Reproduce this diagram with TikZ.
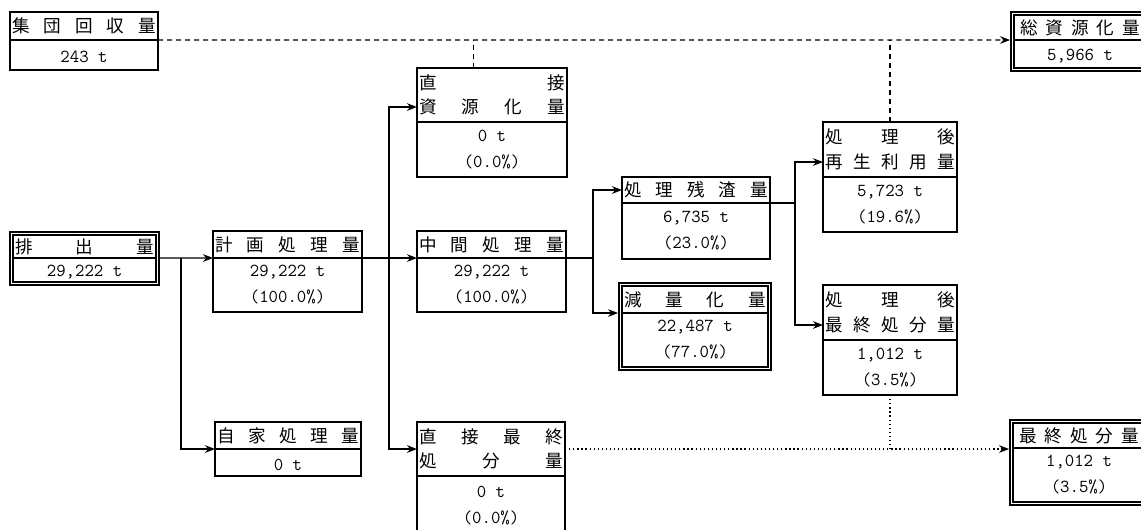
\documentclass[tikz,border=0pt]{standalone}
\usepackage{fontspec}
\newfontfamily\jpfont{Noto Sans CJK JP}
\usetikzlibrary{arrows.meta,calc,fit}
\begin{document}
\begin{tikzpicture}[x=0.025cm,y=-0.025cm,
    box/.style={draw,line width=1.3pt,outer sep=0pt,inner xsep=0.05cm,inner ysep=0pt,anchor=north west},
    head/.style={box,font=\jpfont\fontsize{12.5}{17.5}\selectfont,align=left},
    val/.style={box,font=\ttfamily\fontsize{13}{18.5}\selectfont,align=center,execute at begin node=\rule{0pt}{11pt}},
    val2/.style={val,execute at begin node=\rule{0pt}{16pt}},
    dbl/.style={draw,line width=1.3pt,inner sep=0.075cm},
    conn/.style={line width=0.9pt},
    arr/.style={conn,-{Stealth[length=0.25cm,width=0.19cm]}},
    dsh/.style={conn,dash pattern=on 0.125cm off 0.1cm},
    dot/.style={conn,dotted}]
\useasboundingbox (0,0) rectangle (1141,529);
\node[head,minimum width=3.7cm,text width=3.6cm,minimum height=0.7cm] (A-h) at (10,12) {集\hfill 団\hfill 回\hfill 収\hfill 量};
\node[val,minimum width=3.7cm,minimum height=0.75cm] (A-v) at (A-h.south west) {243 t};
\node[head,minimum width=3.3cm,text width=3.0cm,minimum height=0.625cm] (B-h) at (1014,15) {総\hfill 資\hfill 源\hfill 化\hfill 量};
\node[val,minimum width=3.3cm,minimum height=0.7cm] (B-v) at (B-h.south west) {5,966 t};
\node[dbl,fit=(B-h)(B-v)] (B) {};
\node[head,minimum width=3.75cm,text width=3.65cm,minimum height=1.35cm] (C-h) at (417,68) {直\hfill 接\\資\hfill 源\hfill 化\hfill 量};
\node[val2,minimum width=3.75cm,minimum height=1.375cm] (C-v) at (C-h.south west) {0 t\\(0.0\%)};
\node[head,minimum width=3.575cm,text width=3.475cm,minimum height=0.575cm] (D-h) at (13,235) {排\hfill 出\hfill 量};
\node[val,minimum width=3.575cm,minimum height=0.6cm] (D-v) at (D-h.south west) {29,222 t};
\node[dbl,fit=(D-h)(D-v)] (D) {};
\node[head,minimum width=3.725cm,text width=3.625cm,minimum height=0.675cm] (E-h) at (213,231) {計\hfill 画\hfill 処\hfill 理\hfill 量};
\node[val2,minimum width=3.725cm,minimum height=1.35cm] (E-v) at (E-h.south west) {29,222 t\\(100.0\%)};
\node[head,minimum width=3.725cm,text width=3.625cm,minimum height=0.675cm] (F-h) at (417,231) {中\hfill 間\hfill 処\hfill 理\hfill 量};
\node[val2,minimum width=3.725cm,minimum height=1.35cm] (F-v) at (F-h.south west) {29,222 t\\(100.0\%)};
\node[head,minimum width=3.7cm,text width=3.6cm,minimum height=0.65cm] (G-h) at (622,177) {処\hfill 理\hfill 残\hfill 渣\hfill 量};
\node[val2,minimum width=3.7cm,minimum height=1.4cm] (G-v) at (G-h.south west) {6,735 t\\(23.0\%)};
\node[head,minimum width=3.65cm,text width=3.55cm,minimum height=0.675cm] (H-h) at (622,286) {減\hfill 量\hfill 化\hfill 量};
\node[val2,minimum width=3.65cm,minimum height=1.35cm] (H-v) at (H-h.south west) {22,487 t\\(77.0\%)};
\node[dbl,fit=(H-h)(H-v)] (H) {};
\node[head,minimum width=3.35cm,text width=3.25cm,minimum height=1.375cm] (I-h) at (823,122) {処\hfill 理\hfill 後\\再\hfill 生\hfill 利\hfill 用\hfill 量};
\node[val2,minimum width=3.35cm,minimum height=1.375cm] (I-v) at (I-h.south west) {5,723 t\\(19.6\%)};
\node[head,minimum width=3.35cm,text width=3.25cm,minimum height=1.375cm] (J-h) at (823,285) {処\hfill 理\hfill 後\\最\hfill 終\hfill 処\hfill 分\hfill 量};
\node[val2,minimum width=3.35cm,minimum height=1.375cm] (J-v) at (J-h.south west) {1,012 t\\(3.5\%)};
\node[head,minimum width=3.65cm,text width=3.55cm,minimum height=0.675cm] (K-h) at (215,422) {自\hfill 家\hfill 処\hfill 理\hfill 量};
\node[val,minimum width=3.65cm,minimum height=0.675cm] (K-v) at (K-h.south west) {0 t};
\node[head,minimum width=3.7cm,text width=3.6cm,minimum height=1.35cm] (L-h) at (417,422) {直\hfill 接\hfill 最\hfill 終\\処\hfill 分\hfill 量};
\node[val2,minimum width=3.7cm,minimum height=1.5cm] (L-v) at (L-h.south west) {0 t\\(0.0\%)};
\node[head,minimum width=3.3cm,text width=3.0cm,minimum height=0.625cm] (M-h) at (1013,423) {最\hfill 終\hfill 処\hfill 分\hfill 量};
\node[val2,minimum width=3.3cm,minimum height=1.35cm] (M-v) at (M-h.south west) {1,012 t\\(3.5\%)};
\node[dbl,fit=(M-h)(M-v)] (M) {};
\draw[dsh,arr] (A-h.south east) -- (B.west |- B-h.south);
\coordinate (ctop) at ($(C-h.north west)!0.375!(C-h.north east)$);
\draw[dsh] (ctop) -- (ctop |- A-h.south);
\draw[dsh] (I-h.north) -- (I-h.north |- A-h.south);
\draw[arr] (D.east |- D-h.south) -- (E-h.south west);
\draw[arr] (D.east |- D-h.south) ++(21,0) |- (K-h.south west);
\draw[arr] (E-h.south east) -- (F-h.south west);
\draw[arr] (E-h.south east) ++(27,0) |- ([yshift=0.375cm]C-h.south west);
\draw[arr] (E-h.south east) ++(27,0) |- (L-h.west);
\draw[arr] (F-h.south east) -- ++(27,0) |- (G-h.west);
\draw[arr] (F-h.south east) ++(27,0) |- (H.west |- H-h.south);
\draw[arr] (G-h.south east) -- ++(25,0) |- ([yshift=0.375cm]I-h.south west);
\draw[arr] (G-h.south east) ++(25,0) |- ([yshift=0.375cm]J-h.south west);
\draw[dot,arr] (L-h.east) -- (M.west |- L-h.east);
\draw[dot] (J-v.south) -- (J-v.south |- L-h.east);
\end{tikzpicture}
\end{document}
